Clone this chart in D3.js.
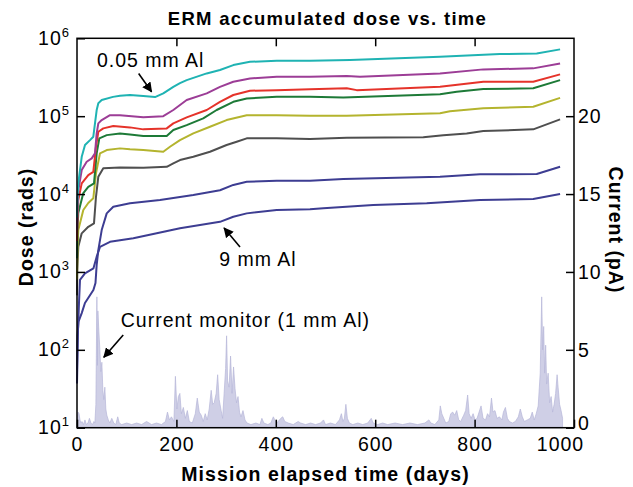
<!DOCTYPE html>
<html><head><meta charset="utf-8">
<script src="https://cdn.jsdelivr.net/npm/d3@7"></script>
<style>
body{margin:0;background:#fff;}
svg text{font-family:"Liberation Sans",Arial,Helvetica,sans-serif;fill:#000;}
</style></head>
<body><svg id="c" width="633" height="487"></svg>
<script>
// ---- data ----
const xTicks = [0,200,400,600,800,1000];
const doseTicks = [1e1,1e2,1e3,1e4,1e5,1e6];
const currentTicks = [0,5,10,15,20];

const cyan0p05 = [[0,5000],[1,9000],[2.6,13700],[9.5,30100],[16.1,42600],[26.2,49300],[32.8,54500],[36.2,81000],[39.6,120000],[42.9,147000],[49.7,161000],[72.4,177000],[86.5,183000],[106.6,187000],[133.4,181000],[157,176000],[173.6,196000],[193.8,238000],[207.2,266000],[220.7,290000],[261,354000],[287.7,391000],[314.5,453000],[348,499000],[401.8,514000],[468.8,514000],[549.3,525000],[730.4,579000],[851,627000],[925,640000],[972,721000]];
const magentaSeries = [[0,3500],[1,7000],[2.6,11200],[9.5,20300],[19.5,26000],[29.6,28700],[36.2,33300],[39.6,60100],[42.9,80900],[49.7,89100],[66.4,103000],[86.5,103000],[133.4,96600],[173.6,100000],[193.8,120000],[220.7,161000],[261,196000],[287.7,238000],[314.5,277000],[348,305000],[401.8,321000],[468.8,321000],[542.7,327000],[569.4,321000],[730.4,354000],[817.5,399000],[918,411000],[972,476000]];
const redSeries = [[0,2500],[1,5000],[2.6,8380],[9.5,13700],[22.7,17500],[32.8,19300],[38.2,40500],[42.9,63100],[52.9,69700],[73,74700],[106.6,71800],[133.4,67700],[180.5,69700],[193.8,80900],[220.7,96600],[261,120000],[287.7,153000],[314.5,187000],[348,212000],[401.8,216000],[468.8,221000],[542.7,228000],[562.8,216000],[730.4,238000],[817.5,277000],[918,277000],[972,344000]];
const greenSeries = [[0,1500],[1,3500],[2.6,5700],[12.7,10300],[22.7,12400],[34.2,13700],[39.6,33300],[44.9,51900],[59.8,57100],[86.5,60100],[106.6,58300],[133.4,55600],[180.5,55600],[193.8,66400],[220.7,76900],[254,93800],[281,120000],[314.5,153000],[341.5,169000],[401.8,177000],[468.8,177000],[535.8,174000],[730.4,191000],[764,206000],[817.5,223000],[918,228000],[972,290000]];
const yellowSeries = [[0,800],[1,2000],[2.6,3450],[12.7,6240],[22.7,7670],[32.8,8810],[38.2,18500],[46.3,33300],[59.8,36700],[86.5,38600],[106.6,37500],[133.4,36700],[173.6,34900],[187.1,40500],[207.2,49300],[234,60100],[267.6,73100],[301,89100],[341.5,103000],[401.8,103000],[468.8,101000],[542.7,101000],[730.4,109000],[750.5,116000],[817.5,126000],[918,132000],[972,172000]];
const graySeries = [[0,500],[0.6,1060],[2.6,2110],[9.5,3130],[22.7,3800],[34.2,4200],[38.2,9230],[42.9,16700],[52.9,21400],[86.5,22000],[133.4,21800],[180.5,22400],[193.8,24800],[207.2,27300],[234,30100],[267.6,34900],[301,42600],[321.3,46900],[341.5,51900],[401.8,51900],[468.8,50800],[542.7,52800],[696.8,53500],[737,57100],[784,60100],[817.5,64400],[918,67700],[972,91000]];
const navyUpper = [[0,55],[1,150],[3,230],[9.5,296],[16,400],[33,586],[37.2,720],[39.6,1230],[42.9,1910],[49.7,3450],[59.8,5650],[73,6870],[106.6,7600],[167,8380],[234,9710],[287.7,11200],[314.5,13100],[341.5,14400],[401.8,14800],[468.8,14800],[535.8,15600],[730.4,16700],[811,17900],[925,18100],[972,22400]];
const navy9mm = [[0,37],[2,180],[4,400],[6,790],[16,960],[33,1110],[39.6,1570],[46.3,2100],[66.4,2440],[113.3,2700],[160.4,3130],[207.2,3630],[247.5,4000],[287.7,4400],[314.5,5120],[341.5,5650],[401.8,6240],[468.8,6370],[495.6,6550],[596.2,7230],[703.6,7600],[811,8380],[918,8630],[972,10000]];

const currentMonitor = [[0,0.3],[2,1.0],[4,0.9],[6,0.5],[8,0.3],[10,0.4],[13,0.2],[16,0.5],[19,0.2],[22,0.3],[25,0.6],[28,0.3],[31,0.2],[34,0.4],[36,0.3],[38,1.5],[40,8.4],[41,4.0],[42,7.5],[44,6.2],[46,5.0],[48,3.6],[50,4.2],[52,2.4],[54,1.8],[56,2.6],[58,1.2],[60,0.8],[63,0.5],[66,0.3],[70,0.6],[74,0.3],[78,0.2],[82,0.7],[85,0.3],[90,0.2],[100,0.3],[110,0.2],[120,0.3],[130,0.2],[140,0.4],[150,0.2],[160,0.3],[170,0.2],[178,0.4],[182,1.0],[186,0.5],[190,0.7],[195,0.4],[198,3.3],[201,1.2],[204,2.0],[207,2.2],[210,0.9],[214,1.3],[218,0.6],[222,1.1],[226,0.4],[232,0.3],[238,0.9],[242,1.9],[246,1.0],[250,0.8],[254,0.4],[258,0.9],[262,0.5],[266,1.2],[270,2.4],[273,1.5],[276,1.6],[280,2.2],[283,3.4],[286,1.8],[290,1.1],[293,0.6],[296,2.2],[299,3.8],[301,5.9],[303,3.0],[306,2.6],[309,4.6],[312,2.2],[315,3.9],[318,2.5],[321,1.6],[324,2.0],[327,1.0],[330,0.7],[334,1.1],[338,0.5],[342,0.3],[350,0.2],[360,0.3],[368,0.2],[372,0.6],[376,0.3],[384,0.2],[390,0.3],[395,0.7],[398,0.5],[402,0.3],[410,0.6],[414,0.7],[418,0.4],[425,0.3],[435,0.2],[445,0.4],[450,0.3],[460,0.2],[470,0.3],[480,0.2],[490,0.3],[496,0.5],[500,0.2],[510,0.3],[520,0.2],[528,0.5],[532,0.9],[535,0.4],[538,0.6],[541,1.5],[544,0.6],[548,0.3],[555,0.2],[565,0.3],[575,0.2],[585,0.3],[592,0.6],[596,0.3],[605,0.2],[615,0.3],[625,0.2],[640,0.3],[655,0.2],[670,0.3],[685,0.2],[700,0.3],[708,0.5],[712,0.3],[720,0.2],[728,0.5],[731,1.4],[734,0.9],[738,0.6],[742,0.3],[748,0.4],[752,0.9],[756,1.0],[760,0.8],[764,1.1],[768,0.5],[772,0.4],[778,0.8],[782,1.1],[786,2.1],[789,0.9],[793,0.6],[797,0.9],[801,0.5],[805,0.6],[809,1.0],[813,1.4],[817,0.6],[822,0.5],[826,0.9],[830,0.7],[834,1.9],[837,1.0],[841,1.1],[845,0.6],[850,0.7],[855,0.5],[858,1.0],[862,1.3],[866,0.6],[870,0.4],[876,0.3],[882,0.4],[888,0.7],[892,1.2],[896,0.7],[900,0.4],[906,0.5],[912,0.6],[916,1.0],[920,0.5],[924,0.9],[928,1.4],[932,3.5],[935,8.4],[937,5.0],[939,6.5],[941,3.5],[943,5.3],[945,2.8],[948,3.5],[951,1.6],[954,2.0],[957,1.0],[960,1.5],[963,2.2],[966,3.4],[968,2.6],[971,1.5],[974,1.1],[977,0.6]];

const seriesList = [
  {data: navy9mm, color:"#3d3d92"},
  {data: navyUpper, color:"#3d3d92"},
  {data: graySeries, color:"#4f4f4f"},
  {data: yellowSeries, color:"#b4b42e"},
  {data: greenSeries, color:"#1d7a37"},
  {data: redSeries, color:"#e5332a"},
  {data: magentaSeries, color:"#9c3d96"},
  {data: cyan0p05, color:"#1fb3b3"}
];

// ---- layout ----
const L=77, R=574, T=38.3, B=427.7;
const svg = d3.select("#c");
const x = d3.scaleLinear().domain([0,1000]).range([L,R]);
const yL = d3.scaleLog().domain([1e1,1e6]).range([B,T]);
const yR = d3.scaleLinear().domain([0,25]).range([B,T]);

svg.append("defs").append("marker").attr("id","ah").attr("viewBox","0 0 10 10")
  .attr("refX",9).attr("refY",5).attr("markerWidth",10).attr("markerHeight",10)
  .attr("markerUnits","userSpaceOnUse").attr("orient","auto")
  .append("path").attr("d","M0,0L10,5L0,10Z").attr("fill","#000");

// current monitor
const area = d3.area().x(d=>x(d[0])).y0(yR(0)).y1(d=>yR(d[1]));
svg.append("path").datum(currentMonitor).attr("d",area)
  .attr("fill","#cfcfe6").attr("stroke","#b6b6d8").attr("stroke-width",0.7);

// dose curves
const line = d3.line().x(d=>x(d[0])).y(d=>yL(d[1]));
seriesList.forEach(s=>{
  svg.append("path").datum(s.data).attr("d",line).attr("fill","none")
    .attr("stroke",s.color).attr("stroke-width",2).attr("stroke-linejoin","round");
});

// frame
svg.append("rect").attr("x",L).attr("y",T).attr("width",R-L).attr("height",B-T)
  .attr("fill","none").attr("stroke","#000").attr("stroke-width",1.5);

// axes
const tickFont = 19.5;
const gB = svg.append("g").attr("transform",`translate(0,${B})`)
  .call(d3.axisBottom(x).tickValues(xTicks).tickSize(-8).tickPadding(9.5).tickFormat(d3.format("d")));
const gT = svg.append("g").attr("transform",`translate(0,${T})`)
  .call(d3.axisTop(x).tickValues([200,400,600,800]).tickSize(-8).tickFormat(""));
const gL = svg.append("g").attr("transform",`translate(${L},0)`)
  .call(d3.axisLeft(yL).tickValues(doseTicks).tickSize(-8).tickFormat(""));
const gR = svg.append("g").attr("transform",`translate(${R},0)`)
  .call(d3.axisRight(yR).tickValues(currentTicks).tickSize(-8).tickPadding(4).tickFormat(d3.format("d")));
[gB,gT,gL,gR].forEach(g=>{
  g.select(".domain").remove();
  g.selectAll(".tick line").attr("stroke","#000").attr("stroke-width",1.5);
  g.selectAll("text").attr("font-size",tickFont).attr("fill","#000")
    .style("font-family","Liberation Sans, Arial, sans-serif").style("letter-spacing","1px");
});
gB.selectAll(".tick").filter(d=>d===1000).select("text").attr("dx",-14);
gR.selectAll(".tick").filter(d=>d===0).select("text").attr("dy","0.1em");

// log labels with superscripts
const lbl = svg.append("g");
doseTicks.forEach(v=>{
  const t = lbl.append("text").attr("x",L-7).attr("y",yL(v)+6.5)
    .attr("text-anchor","end").attr("font-size",tickFont).style("letter-spacing","1px");
  t.append("tspan").text("10");
  t.append("tspan").attr("dy",-8).attr("font-size",13).text(Math.round(Math.log10(v)));
});

// titles
svg.append("text").attr("x",(L+R)/2+2).attr("y",25).attr("text-anchor","middle")
  .attr("font-size",18.5).attr("font-weight","bold").style("letter-spacing","1.3px")
  .text("ERM accumulated dose vs. time");
svg.append("text").attr("x",(L+R)/2).attr("y",481).attr("text-anchor","middle")
  .attr("font-size",19.5).attr("font-weight","bold").style("letter-spacing","1.1px")
  .text("Mission elapsed time (days)");
svg.append("text").attr("transform","translate(33,227) rotate(-90)").attr("text-anchor","middle")
  .attr("font-size",19.5).attr("font-weight","bold").style("letter-spacing","1px")
  .text("Dose (rads)");
svg.append("text").attr("transform","translate(609,230) rotate(90)").attr("text-anchor","middle")
  .attr("font-size",19.5).attr("font-weight","bold").style("letter-spacing","1px")
  .text("Current (pA)");

// annotations (positioned in data units)
function note(txt, tx, ty, ax0, ay0, ax1, ay1){
  svg.append("text").attr("x",tx).attr("y",ty).attr("font-size",19.5)
    .style("letter-spacing","1px").text(txt);
  svg.append("line").attr("x1",ax0).attr("y1",ay0).attr("x2",ax1).attr("y2",ay1)
    .attr("stroke","#000").attr("stroke-width",1.6).attr("marker-end","url(#ah)");
}
note("0.05 mm Al", x(40), yL(4.3e5), x(124), yL(3.54e5), x(150), yL(2.06e5));
note("9 mm Al", x(286), yL(1190), x(328), yL(2090), x(296), yL(3660));
note("Current monitor (1 mm Al)", x(88), yR(6.45), x(93), yR(5.95), x(54), yR(4.52));
</script></body></html>
